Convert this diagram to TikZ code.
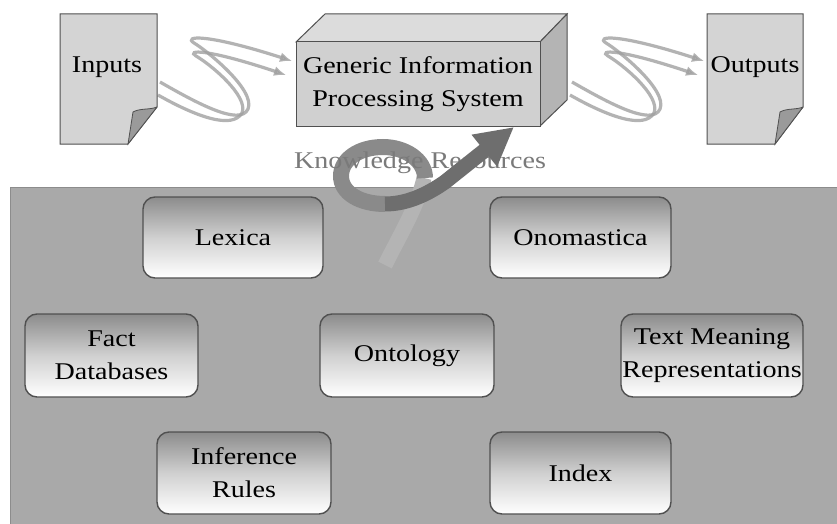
\documentclass[tikz,border=0pt]{standalone}
\usepackage{fontspec}
\setmainfont{Liberation Serif}[FakeStretch=1.17]
\usetikzlibrary{arrows.meta}
\definecolor{pagefill}{HTML}{D4D4D4}
\definecolor{edge}{HTML}{505050}
\definecolor{foldfill}{HTML}{9A9A9A}
\definecolor{boxfront}{HTML}{D0D0D0}
\definecolor{boxtop}{HTML}{DCDCDC}
\definecolor{boxside}{HTML}{B4B4B4}
\definecolor{panel}{HTML}{A9A9A9}
\definecolor{ktop}{HTML}{8C8C8C}
\definecolor{kmid}{HTML}{D0D0D0}
\definecolor{swirl}{HTML}{A0A0A0}
\definecolor{ring}{HTML}{8A8A8A}
\definecolor{tail}{HTML}{B4B4B4}
\definecolor{shaft}{HTML}{6E6E6E}
\definecolor{ktext}{HTML}{7A7A7A}
\tikzset{
  lbl/.style={font=\fontsize{24}{33}\selectfont, align=center, text=black},
  kbox/.style={lbl, rounded corners=12pt, draw=edge, line width=1.4pt,
    top color=ktop, bottom color=white, middle color=kmid, inner sep=0pt},
  pagestyle/.style={fill=pagefill, draw=edge, line width=1pt},
  swirlline/.style={draw=swirl, line width=3.2pt, opacity=0.8,
    -{Latex[length=12pt,width=10pt]}},
}
\begin{document}
\begin{tikzpicture}[x=1pt,y=-1pt]
\useasboundingbox (0,0) rectangle (837,524);
\fill[white] (0,0) rectangle (837,524);

% knowledge panel
\fill[panel] (10,187) rectangle (840,530);
\draw[black!45, line width=1pt] (10,530) -- (10,187) -- (840,187);

% swirl arrows (inputs -> system, system -> outputs)
\foreach \dx in {0,412}{
 \begin{scope}[shift={(\dx,0)}]
  \draw[swirlline] (160,82) .. controls (195,102) and (240,127) .. (248,109)
     .. controls (256,90) and (206,50) .. (194,43)
     .. controls (183,36) and (205,33) .. (292,61);
  \draw[swirlline] (158,95) .. controls (195,116) and (232,130) .. (242,113)
     .. controls (249,96) and (210,64) .. (196,56)
     .. controls (186,50) and (205,48) .. (286,75);
 \end{scope}
}

% Inputs page
\draw[pagestyle] (60,14) -- (157,14) -- (157,107) -- (128,144) -- (60,144) -- cycle;
\draw[fill=foldfill, draw=edge, line width=0.8pt] (157,107) -- (128,144) -- (133,112) .. controls (140,108) and (150,110) .. (157,107);
\node[lbl] (inputs) at (107,67) {Inputs};

% Outputs page
\draw[pagestyle] (707,14) -- (803,14) -- (803,107) -- (775,144) -- (707,144) -- cycle;
\draw[fill=foldfill, draw=edge, line width=0.8pt] (803,107) -- (775,144) -- (780,112) .. controls (787,108) and (796,110) .. (803,107);
\node[lbl] (outputs) at (755,67) {Outputs};

% 3D box
\draw[fill=boxtop, draw=edge, line width=1pt] (296,42) -- (325,14) -- (567,14) -- (540,42) -- cycle;
\draw[fill=boxside, draw=edge, line width=1pt] (540,42) -- (567,14) -- (567,100) -- (540,126) -- cycle;
\node[lbl, draw=edge, line width=1pt, fill=boxfront, minimum width=244pt, minimum height=84pt, inner sep=0pt] (gips) at (418,84) {Generic Information\\Processing System};

% knowledge resources curl
\draw[tail, line width=15pt] (424,178) .. controls (418,205) and (400,235) .. (385,265);
\draw[ring, line width=16pt] (425,178) .. controls (425,160) and (405,147) .. (383,147)
   .. controls (358,147) and (341,160) .. (341,176)
   .. controls (341,193) and (360,204) .. (385,204);
\node[font=\fontsize{24}{28}\selectfont, text=ktext] (kr) at (420,163) {Knowledge Resources};
\draw[shaft, line width=15pt, -{Triangle[length=38pt,width=38pt]}] (385,204) .. controls (405,204) and (425,196) .. (445,182) -- (514,127);

% resource boxes
\node[kbox, minimum width=180pt, minimum height=81pt] (lexica) at (233,237.5) {Lexica};
\node[kbox, minimum width=181pt, minimum height=81pt] (onom) at (580.5,237.5) {Onomastica};
\node[kbox, minimum width=173pt, minimum height=83pt] (fact) at (111.5,355.5) {Fact\\Databases};
\node[kbox, minimum width=174pt, minimum height=83pt] (onto) at (407,355.5) {Ontology};
\node[kbox, minimum width=182pt, minimum height=83pt] (tmr) at (712,355.5) {Text Meaning\\Representations};
\node[kbox, minimum width=174pt, minimum height=82pt] (infer) at (244,473) {Inference\\Rules};
\node[kbox, minimum width=181pt, minimum height=82pt] (index) at (580.5,473) {Index};
\end{tikzpicture}
\end{document}
